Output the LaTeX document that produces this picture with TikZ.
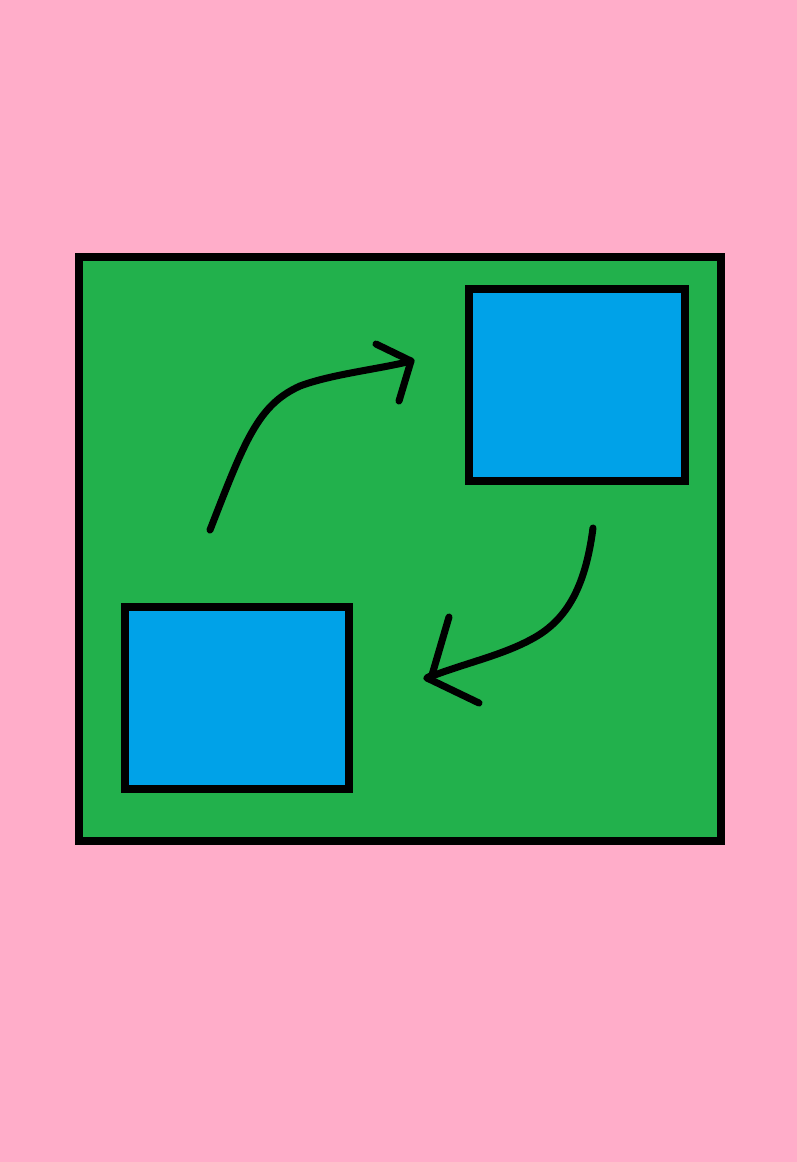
\documentclass[tikz,border=0pt]{standalone}
\usepackage{xcolor}
\usepackage{tikz}
\usetikzlibrary{positioning}

\definecolor{bgpink}{RGB}{255,173,201}
\definecolor{boardgreen}{RGB}{34,177,76}
\definecolor{boxblue}{RGB}{0,162,232}

\begin{document}
\begin{tikzpicture}[
    x=0.01cm, y=-0.01cm,
    board/.style={rectangle, draw=black, fill=boardgreen, line width=2.3pt,
                  inner sep=0pt, outer sep=0pt,
                  minimum width=6.42cm, minimum height=5.84cm},
    box/.style={rectangle, draw=black, fill=boxblue, line width=2.3pt,
                inner sep=0pt, outer sep=0pt},
    stroke/.style={line width=2pt, line cap=round, line join=round},
]
% background
\fill[bgpink] (0,0) rectangle (797,1162);
\useasboundingbox (0,0) rectangle (797,1162);

\node[board] (frame) at (400,549) {};
\node[box, minimum width=2.16cm, minimum height=1.92cm] (upper) at (577,385) {};
\node[box, minimum width=2.24cm, minimum height=1.82cm] (lower) at (237,698) {};

% upward arrow
\coordinate (a1s) at (210,530);
\coordinate (a1t) at (411,361);
\draw[stroke] (a1s) .. controls (245,440) and (258,405) .. (300,386)
    .. controls (332,374) and (380,369) .. (a1t);
\draw[stroke] (376,344) -- (a1t) -- (399,401);

% downward arrow
\coordinate (a2s) at (593,528);
\coordinate (a2t) at (427,678);
\draw[stroke] (a2s) .. controls (585,590) and (565,622) .. (530,640)
    .. controls (500,656) and (462,664) .. (a2t);
\draw[stroke] (449,617) -- (432,675) -- (a2t) -- (479,703);
\end{tikzpicture}
\end{document}
